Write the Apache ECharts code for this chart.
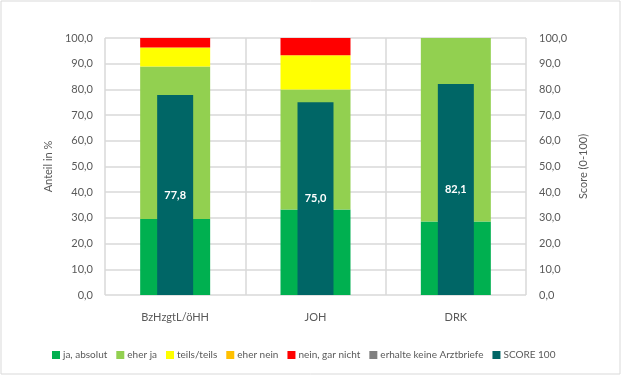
<!DOCTYPE html>
<html>
<head>
<meta charset="utf-8">
<script src="https://cdn.jsdelivr.net/npm/echarts@6/dist/echarts.min.js"></script>
<style>
  html, body { margin: 0; padding: 0; background: #fff; }
  #chart { width: 622px; height: 376px; }
</style>
</head>
<body>
<div id="chart"></div>
<script>
const categories = ['BzHzgtL/öHH', 'JOH', 'DRK'];
const jaAbsolut = [29.6, 33.3, 28.6];
const eherJa = [59.3, 46.7, 71.4];
const teilsTeils = [7.4, 13.3, 0];
const eherNein = [0, 0, 0];
const neinGarNicht = [3.7, 6.7, 0];
const keineArztbriefe = [0, 0, 0];
const score100 = [77.8, 75.0, 82.1];

const fmt = v => v.toFixed(1).replace('.', ',');
const textColor = '#595959';
const font = 'Lato';

const myChart = echarts.init(document.getElementById('chart'));

function stackSeries(name, data, color) {
  return {
    name: name,
    type: 'bar',
    stack: 'anteil',
    barWidth: 70,
    data: data,
    itemStyle: { color: color },
    xAxisIndex: 0,
    yAxisIndex: 0
  };
}

const option = {
  animation: false,
  textStyle: { fontFamily: font },
  graphic: [{
    type: 'rect',
    shape: { x: 1, y: 1, width: 619, height: 373 },
    style: { fill: null, stroke: '#d9d9d9', lineWidth: 1 },
    silent: true
  }],
  legend: {
    top: 345,
    left: 47,
    width: 570,
    itemWidth: 8,
    itemHeight: 8,
    itemGap: 9,
    icon: 'rect',
    textStyle: { color: textColor, fontSize: 10, fontFamily: font, padding: [0, 0, 0, -2] },
    data: ['ja, absolut', 'eher ja', 'teils/teils', 'eher nein', 'nein, gar nicht', 'erhalte keine Arztbriefe', 'SCORE 100']
  },
  grid: {
    left: 105,
    right: 96,
    top: 38,
    bottom: 81
  },
  xAxis: [{
    type: 'category',
    data: categories,
    axisLine: { show: false },
    axisTick: { show: false },
    splitLine: { show: true, lineStyle: { color: '#d9d9d9', width: 1.5 } },
    axisLabel: { color: textColor, fontSize: 11, margin: 17 }
  }, {
    type: 'category',
    data: categories,
    show: false
  }],
  yAxis: [{
    type: 'value',
    min: 0,
    max: 100,
    interval: 10,
    name: 'Anteil in %',
    nameLocation: 'middle',
    nameGap: 44,
    nameTextStyle: { color: textColor, fontSize: 11 },
    axisLine: { show: false },
    axisTick: { show: false },
    splitLine: { lineStyle: { color: '#d9d9d9', width: 1.5 } },
    axisLabel: { color: textColor, fontSize: 11, margin: 12, formatter: fmt }
  }, {
    type: 'value',
    min: 0,
    max: 100,
    interval: 10,
    name: 'Score (0-100)',
    nameLocation: 'middle',
    nameGap: 52,
    nameTextStyle: { color: textColor, fontSize: 11 },
    axisLine: { show: false },
    axisTick: { show: false },
    splitLine: { show: false },
    axisLabel: { color: textColor, fontSize: 11, margin: 13, formatter: fmt }
  }],
  series: [
    stackSeries('ja, absolut', jaAbsolut, '#00B050'),
    stackSeries('eher ja', eherJa, '#92D050'),
    stackSeries('teils/teils', teilsTeils, '#FFFF00'),
    stackSeries('eher nein', eherNein, '#FFC000'),
    stackSeries('nein, gar nicht', neinGarNicht, '#FF0000'),
    stackSeries('erhalte keine Arztbriefe', keineArztbriefe, '#808080'),
    {
      name: 'SCORE 100',
      type: 'bar',
      xAxisIndex: 1,
      yAxisIndex: 1,
      barWidth: 36,
      data: score100,
      itemStyle: { color: '#006666' },
      label: {
        show: true,
        position: 'inside',
        color: '#fff',
        fontWeight: 'bold',
        fontSize: 11,
        formatter: p => fmt(p.value)
      }
    }
  ]
};

myChart.setOption(option);
window.addEventListener('resize', function() {
  myChart.resize();
});
</script>
</body>
</html>
